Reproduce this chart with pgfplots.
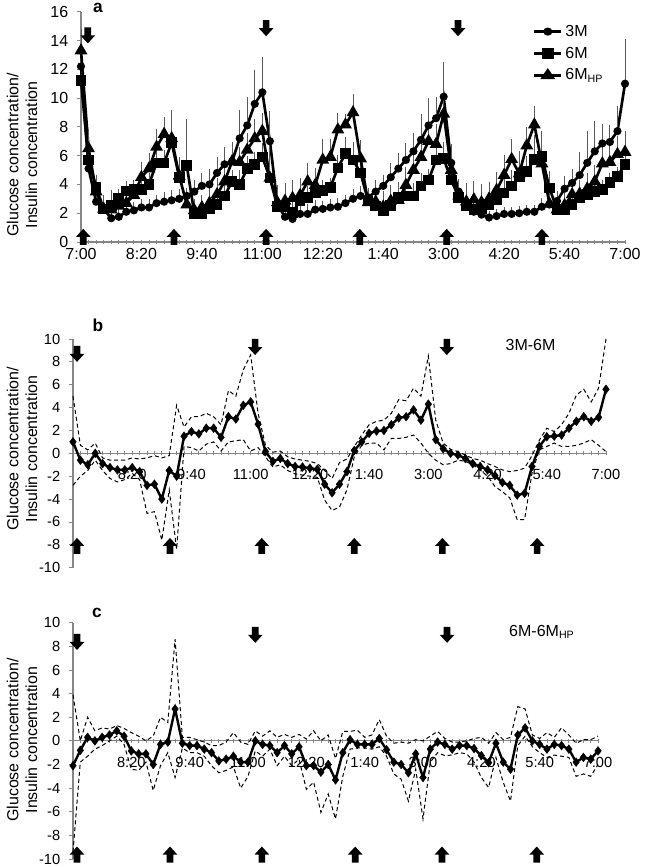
\documentclass[border=0pt]{standalone}
\usepackage{fontspec}
\setmainfont{Liberation Sans}
\usepackage{pgfplots}
\usepackage{pgfplotstable}
\pgfplotsset{compat=1.18}

\definecolor{axgray}{RGB}{134,134,134}
\definecolor{errgray}{RGB}{90,90,90}

% t = 10-min step from 7:00; c = 3M, s = 6M, h = 6M_HP, *e = upper SD
\pgfplotstableread{
t c ce s se h he
0 12.2 0.8 11.2 0.6 13.3 1.2
1 5.1 1.0 5.7 0.5 6.5 1.1
2 2.8 0.5 3.8 0.5 3.5 0.9
3 2.3 0.5 2.3 0.7 2.3 0.7
4 1.65 0.4 2.55 0.8 2.25 0.7
5 1.75 0.4 3.0 0.4 2.5 0.6
6 2.1 0.3 3.55 0.4 2.7 0.5
7 2.2 0.3 3.65 0.4 3.25 0.5
8 2.4 0.3 3.65 0.4 4.5 0.8
9 2.4 0.3 4.0 0.5 5.1 0.8
10 2.7 0.3 5.5 0.6 6.6 1.0
11 2.8 0.4 5.5 0.6 7.5 0.9
12 2.9 0.4 6.9 0.7 7.2 1.7
13 3.0 0.4 4.5 1.0 4.6 1.0
14 3.2 0.3 5.3 3.0 2.6 0.6
15 3.5 0.5 2.0 0.6 2.2 0.5
16 3.9 0.6 2.0 0.6 2.4 0.6
17 4.0 0.8 2.3 0.6 2.7 0.8
18 4.8 0.8 2.6 0.6 3.3 0.9
19 5.4 0.9 3.2 0.7 4.2 0.8
20 5.6 1.1 4.2 0.5 5.6 1.0
21 7.2 1.7 4.0 0.7 5.55 0.8
22 8.1 1.7 5.1 0.6 6.4 0.9
23 9.6 2.1 5.4 0.6 7.2 1.1
24 10.4 2.2 5.9 0.7 7.7 1.0
25 7.0 1.8 4.45 1.0 4.45 4.3
26 2.6 0.8 2.45 1.2 2.75 0.8
27 1.75 0.5 2.45 1.0 2.85 1.0
28 1.6 0.5 2.05 1.2 3.05 1.0
29 1.95 0.4 2.85 1.0 3.25 0.9
30 1.95 0.4 3.1 0.5 4.2 1.0
31 2.25 0.4 3.45 0.5 3.95 0.9
32 2.3 0.3 3.6 0.4 5.7 1.2
33 2.4 0.3 3.8 0.4 5.9 1.0
34 2.45 0.3 5.15 0.6 7.8 0.9
35 2.7 0.3 6.15 0.9 8.15 0.5
36 3.0 0.4 5.7 1.0 9.0 1.0
37 3.2 0.4 4.8 1.2 5.8 1.0
38 3.1 0.4 2.85 0.6 2.75 0.7
39 3.5 0.5 2.5 0.5 2.8 0.6
40 3.9 0.5 2.15 0.6 2.45 0.8
41 4.5 0.7 2.55 0.8 2.85 0.8
42 5.1 0.8 3.1 0.6 2.9 1.0
43 5.7 0.9 3.2 0.6 3.95 1.0
44 6.3 1.0 3.2 0.6 5.0 1.0
45 7.1 1.5 3.9 0.6 5.9 1.3
46 8.1 1.6 4.3 0.5 7.0 1.0
47 8.6 1.2 5.7 0.7 6.8 1.1
48 10.1 2.1 5.8 0.9 8.9 1.0
49 5.5 1.0 4.3 0.8 5.0 1.0
50 3.5 0.6 3.1 0.8 3.2 0.8
51 2.5 0.4 2.5 1.3 2.8 1.0
52 2.1 0.3 2.25 1.4 2.95 1.0
53 1.9 0.3 2.35 1.4 2.75 1.0
54 1.7 0.2 2.6 1.3 3.0 0.9
55 1.8 0.2 2.95 0.8 3.6 1.0
56 1.95 0.2 3.4 0.8 4.65 1.1
57 1.95 0.2 3.9 0.8 5.75 1.1
58 2.0 0.2 4.55 0.8 4.75 1.3
59 2.1 0.2 4.9 0.8 6.7 1.0
60 2.1 0.2 5.75 1.4 8.15 1.0
61 2.45 0.3 5.95 1.5 5.45 1.2
62 2.6 0.4 3.75 0.9 2.65 0.8
63 2.85 0.4 2.25 0.6 2.25 0.7
64 3.7 0.6 2.25 0.5 2.55 0.6
65 4.1 0.7 2.6 0.5 3.3 0.6
66 4.65 1.3 3.05 0.4 3.35 0.7
67 5.5 1.9 3.3 0.4 3.7 0.8
68 6.3 1.8 3.5 0.4 4.2 0.9
69 6.85 1.1 3.65 0.4 5.45 0.9
70 6.95 0.9 4.15 0.4 5.55 0.9
71 7.7 1.5 4.55 0.4 6.1 1.0
72 11.0 2.8 5.4 0.4 6.25 1.2
}\tabA

% 3M-6M: difference with upper and lower bounds
\pgfplotstableread{
t d up lo
0 1.0 5.0 -2.8
1 -0.6 0.7 -2.0
2 -1.0 0.3 -1.5
3 0.0 0.9 -0.6
4 -0.9 -0.4 -1.5
5 -1.25 -0.6 -2.2
6 -1.45 -0.6 -2.5
7 -1.45 -0.6 -2.3
8 -1.25 -0.4 -1.75
9 -1.6 -0.5 -2.3
10 -2.8 -0.4 -5.25
11 -2.7 -0.2 -5.1
12 -4.0 -0.4 -7.6
13 -1.5 -0.2 -3.2
14 -2.0 4.2 -8.4
15 1.5 2.3 0.6
16 1.9 3.2 0.5
17 1.7 3.2 0.2
18 2.2 3.5 0.8
19 2.2 3.2 1.0
20 1.4 2.5 0.2
21 3.2 5.5 1.0
22 3.0 5.0 1.1
23 4.2 7.3 1.2
24 4.5 8.6 0.2
25 2.55 3.5 0.5
26 0.15 0.7 -0.3
27 -0.7 0.1 -1.2
28 -0.45 0.2 -1.0
29 -0.9 -0.3 -1.5
30 -1.15 -0.5 -1.8
31 -1.2 -0.6 -1.9
32 -1.3 -0.7 -2.0
33 -1.4 -0.9 -2.1
34 -2.7 -1.5 -4.1
35 -3.45 -2.2 -5.0
36 -2.7 -0.8 -4.7
37 -1.6 -0.5 -3.2
38 0.25 0.6 -0.3
39 1.0 1.6 0.7
40 1.75 2.5 0.9
41 1.95 2.8 0.9
42 2.0 2.9 0.3
43 2.5 3.5 1.3
44 3.1 4.7 1.3
45 3.2 4.6 1.4
46 3.8 5.7 1.6
47 2.9 5.0 0.9
48 4.3 8.5 0.0
49 1.2 2.9 -0.6
50 0.4 0.9 -1.0
51 0.0 0.35 -0.9
52 -0.15 0.15 -0.6
53 -0.45 -0.15 -0.7
54 -0.9 -0.45 -1.0
55 -1.15 -0.6 -1.45
56 -1.45 -0.9 -2.0
57 -1.95 -1.15 -2.9
58 -2.55 -1.45 -3.35
59 -2.8 -1.6 -3.9
60 -3.65 -1.5 -5.8
61 -3.5 -1.3 -5.8
62 -1.15 -0.2 -1.75
63 0.6 1.15 0.3
64 1.45 2.2 0.6
65 1.5 1.9 0.9
66 1.6 2.5 0.6
67 2.2 3.5 0.6
68 2.8 5.1 0.7
69 3.2 5.6 0.9
70 2.8 4.5 1.2
71 3.15 5.7 0.7
72 5.6 10.0 0.15
}\tabB

% 6M-6M_HP
\pgfplotstableread{
t d up lo
0 -2.1 3.9 -9.4
1 -0.8 0.0 -1.8
2 0.3 2.0 -1.3
3 0.0 0.85 -0.7
4 0.3 1.1 -0.4
5 0.5 1.0 0.0
6 0.85 1.3 0.4
7 0.4 1.05 -0.3
8 -0.85 0.7 -2.4
9 -1.1 0.4 -2.5
10 -1.1 0.0 -1.8
11 -2.0 0.4 -4.2
12 -0.3 2.0 -2.1
13 -0.1 1.55 -1.0
14 2.7 8.6 -3.1
15 -0.2 0.3 -0.6
16 -0.4 0.3 -1.0
17 -0.4 0.1 -1.0
18 -0.7 -0.1 -1.3
19 -1.0 -0.4 -2.1
20 -1.7 -0.4 -2.7
21 -1.55 -0.1 -2.5
22 -1.3 0.7 -2.2
23 -1.8 -0.1 -4.0
24 -1.8 -0.3 -3.0
25 0.0 0.85 -0.85
26 -0.3 0.4 -1.3
27 -0.4 0.85 -0.7
28 -1.0 0.3 -2.1
29 -0.4 0.55 -1.3
30 -1.1 0.3 -2.1
31 -0.5 0.55 -1.55
32 -2.1 0.15 -4.1
33 -2.1 0.85 -3.5
34 -2.65 0.0 -6.05
35 -2.0 0.5 -4.5
36 -3.3 -1.5 -6.6
37 -1.0 0.8 -3.0
38 0.1 0.8 -0.7
39 -0.3 0.9 -0.6
40 -0.3 0.3 -0.6
41 -0.3 0.5 -0.7
42 0.2 1.8 -0.5
43 -0.75 0.4 -1.3
44 -1.8 -0.2 -2.8
45 -2.0 -0.1 -3.25
46 -2.7 -0.2 -5.1
47 -1.1 0.1 -2.4
48 -3.1 0.0 -6.6
49 -0.7 0.4 -1.8
50 -0.1 0.8 -1.0
51 -0.3 0.2 -1.25
52 -0.7 -0.1 -1.2
53 -0.4 -0.1 -1.0
54 -0.4 0.0 -1.1
55 -0.65 0.2 -1.8
56 -1.25 0.3 -3.1
57 -1.85 -0.2 -3.95
58 -0.2 0.7 -1.4
59 -1.8 0.1 -3.5
60 -2.4 0.3 -5.1
61 0.5 2.9 -0.4
62 1.1 2.7 0.4
63 0.0 0.5 -0.5
64 -0.3 0.2 -1.0
65 -0.7 0.7 -1.4
66 -0.3 0.3 -1.2
67 -0.4 1.1 -1.3
68 -0.7 0.5 -1.4
69 -1.8 -0.2 -3.0
70 -1.4 0.1 -2.8
71 -1.55 0.1 -3.0
72 -0.85 0.4 -2.0
}\tabC

% block arrows, drawn from base (up) or tip (down)
\newcommand{\uparr}[2]{\fill[black] (axis cs:#1,#2) ++(-2.5pt,0pt) -- ++(0pt,6pt) -- ++(-3pt,0pt) -- ++(5.5pt,6pt) -- ++(5.5pt,-6pt) -- ++(-3pt,0pt) -- ++(0pt,-6pt) -- cycle;}
\newcommand{\downarr}[2]{\fill[black] (axis cs:#1,#2) -- ++(-5.5pt,6pt) -- ++(3pt,0pt) -- ++(0pt,6pt) -- ++(5pt,0pt) -- ++(0pt,-6pt) -- ++(3pt,0pt) -- cycle;}

\pgfplotsset{
  panel/.style={
    scale only axis, clip=false,
    xmin=0, xmax=72,
    axis y line=left,
    xtick={0,8,...,72},
    xticklabels={7:00,8:20,9:40,11:00,12:20,1:40,3:00,4:20,5:40,7:00},
    minor xtick={0,...,72},
    tick align=outside, major tick length=3pt, minor tick length=3pt,
    tick style={axgray, line width=0.6pt},
    yticklabel style={xshift=-3pt},
    /pgf/number format/assume math mode=true,
  },
  diffline/.style={black, line width=1.8pt, mark=diamond*, mark size=3.3pt,
    mark options={solid, line width=0.3pt}},
  bound/.style={black, line width=0.75pt, dash pattern=on 3pt off 2.2pt},
}

\begin{document}
\begin{tikzpicture}
\useasboundingbox (0,0) rectangle (483.75pt,650.25pt);

% ---------- panel a ----------
\begin{axis}[panel,
  at={(60.75pt,468.75pt)}, anchor=south west,
  width=408pt, height=172.7pt,
  ymin=0, ymax=16, ytick={0,2,...,16},
  axis x line=bottom,
  axis line style={-, axgray, line width=0.8pt},
  tick label style={font=\fontsize{12}{14}\selectfont},
  legend style={at={(0.83,0.955)}, anchor=north west, draw=none, fill=none,
    font=\fontsize{12}{13}\selectfont, row sep=2.5pt, inner sep=0pt},
  legend image post style={xscale=1.2},
  legend cell align=left,
]
\addplot[black, line width=2pt, mark=*, mark size=2pt, mark options={solid},
  error bars/.cd, y dir=plus, y explicit,
  error bar style={errgray, line width=0.6pt},
  error mark options={errgray, mark size=3pt, line width=0.6pt}]
  table[x=t, y=c, y error=ce] {\tabA};
\addlegendentry{3M}
\addplot[black, line width=2pt, mark=square*, mark size=3pt, mark options={solid},
  error bars/.cd, y dir=plus, y explicit,
  error bar style={errgray, line width=0.6pt},
  error mark options={errgray, mark size=3pt, line width=0.6pt}]
  table[x=t, y=s, y error=se] {\tabA};
\addlegendentry{6M}
\addplot[black, line width=2pt, mark=triangle*, mark size=3.6pt, mark options={solid},
  error bars/.cd, y dir=plus, y explicit,
  error bar style={errgray, line width=0.6pt},
  error mark options={errgray, mark size=3pt, line width=0.6pt}]
  table[x=t, y=h, y error=he] {\tabA};
\addlegendentry{6M\textsubscript{HP}}
\downarr{0.9}{13.8}
\downarr{24.5}{14.3}
\downarr{49.9}{14.3}
\uparr{0.3}{-0.2}
\uparr{12.3}{-0.2}
\uparr{24.5}{-0.2}
\uparr{36.9}{-0.2}
\uparr{48.4}{-0.2}
\uparr{61}{-0.2}
\end{axis}

% ---------- panel b ----------
\begin{axis}[panel,
  at={(54.75pt,224.5pt)}, anchor=south west,
  width=399.75pt, height=171.5pt,
  ymin=-10, ymax=10, ytick={-10,-8,...,10},
  axis x line=middle,
  axis line style={-, axgray, line width=0.8pt},
  tick label style={font=\fontsize{11}{13}\selectfont},
  xticklabel style={yshift=-7pt},
]
\addplot[bound] table[x=t, y=up] {\tabB};
\addplot[bound] table[x=t, y=lo] {\tabB};
\addplot[diffline] table[x=t, y=d] {\tabB};
\downarr{0.54}{8.0}
\downarr{24.6}{8.6}
\downarr{50.5}{8.6}
\uparr{0.54}{-8.8}
\uparr{13.1}{-8.8}
\uparr{25.5}{-8.8}
\uparr{38.0}{-8.8}
\uparr{49.9}{-8.8}
\uparr{62.7}{-8.8}
\node[font=\fontsize{12}{14}\selectfont] at (axis cs:61.8,9.45) {3M-6M};
\end{axis}

% ---------- panel c ----------
\begin{axis}[panel,
  at={(54.75pt,6pt)}, anchor=south west,
  width=393.75pt, height=177.2pt,
  ymin=-10, ymax=10, ytick={-10,-8,...,10},
  axis x line=middle,
  axis line style={-, axgray, line width=0.8pt},
  tick label style={font=\fontsize{11}{13}\selectfont},
  xticklabel style={yshift=-7pt},
]
\addplot[bound] table[x=t, y=up] {\tabC};
\addplot[bound] table[x=t, y=lo] {\tabC};
\addplot[diffline] table[x=t, y=d] {\tabC};
\downarr{0.55}{7.7}
\downarr{25.0}{8.3}
\downarr{51.3}{8.3}
\uparr{0.55}{-10.3}
\uparr{13.3}{-10.3}
\uparr{25.9}{-10.3}
\uparr{38.7}{-10.3}
\uparr{50.6}{-10.3}
\uparr{63.6}{-10.3}
\node[font=\fontsize{12}{14}\selectfont] at (axis cs:64.3,9.2) {6M-6M\textsubscript{HP}};
\end{axis}

% panel letters and y labels
\node[font=\fontsize{13}{15}\selectfont\bfseries, inner sep=0pt] at (73.5pt,644pt) {a};
\node[font=\fontsize{13}{15}\selectfont\bfseries, inner sep=0pt] at (73.5pt,406.5pt) {b};
\node[font=\fontsize{13}{15}\selectfont\bfseries, inner sep=0pt] at (72.75pt,190.5pt) {c};
\node[rotate=90, align=center, font=\fontsize{12}{14}\selectfont] at (16.5pt,534pt)
  {Glucose concentration/\\Insulin concentration};
\node[rotate=90, align=center, font=\fontsize{12}{14}\selectfont] at (16.5pt,313.5pt)
  {Glucose concentration/\\Insulin concentration};
\node[rotate=90, align=center, font=\fontsize{12}{14}\selectfont] at (16.5pt,95.25pt)
  {Glucose concentration/\\Insulin concentration};
\end{tikzpicture}
\end{document}
